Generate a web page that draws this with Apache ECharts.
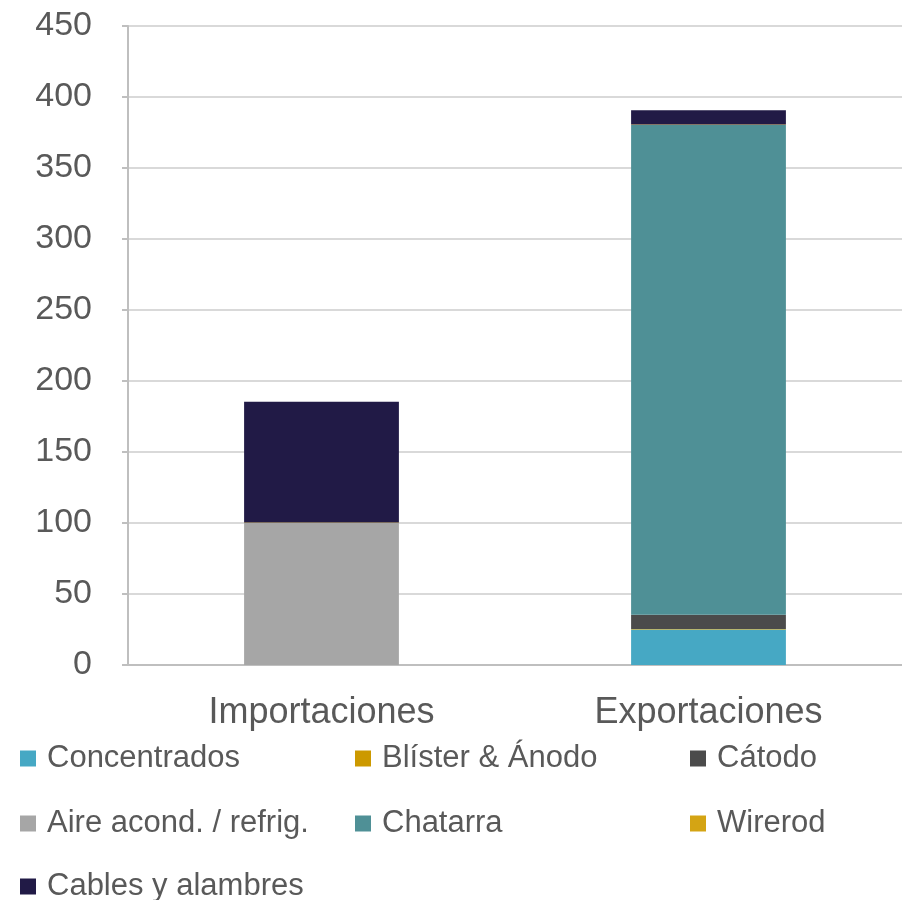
<!DOCTYPE html>
<html>
<head>
<meta charset="utf-8">
<script src="https://cdn.jsdelivr.net/npm/echarts@6/dist/echarts.min.js"></script>
<style>
    html, body { margin: 0; padding: 0; background: #fff; }
    #main { width: 902px; height: 900px; }
</style>
</head>
<body>
<div id="main"></div>
<script>
    // categorias del eje x
    const categories = ['Importaciones', 'Exportaciones'];

    // valores por producto (apilados)
    const concentrados = [0, 25];
    const blister = [0, 0.3];
    const catodo = [0, 10];
    const aireAcond = [100, 0];
    const chatarra = [0, 345];
    const wirerod = [0.3, 0.3];
    const cables = [85, 10];

    const seriesNames = ['Concentrados', 'Blíster & Ánodo', 'Cátodo', 'Aire acond. / refrig.', 'Chatarra', 'Wirerod', 'Cables y alambres'];
    const seriesData = [concentrados, blister, catodo, aireAcond, chatarra, wirerod, cables];
    const colors = ['#46A8C4', '#CC9900', '#4B4B4B', '#A6A6A6', '#4F9096', '#D4A414', '#211A46'];

    // eje y
    const yMin = 0, yMax = 450, yStep = 50;

    const font = '"Liberation Sans", Arial, sans-serif';
    const textColor = '#595959';

    // posiciones de la leyenda (3 columnas)
    const legendPos = [
        [20, 743], [355, 743], [690, 743],
        [20, 808], [355, 808], [690, 808],
        [20, 871]
    ];

    let myChart = echarts.init(document.getElementById('main'));

    let option = {
        animation: false,
        color: colors,
        grid: {
            left: 128,
            right: -2,
            top: 26,
            bottom: 235,
            containLabel: false
        },
        legend: seriesNames.map((n, i) => ({
            data: [n],
            left: legendPos[i][0],
            top: legendPos[i][1],
            icon: 'rect',
            itemWidth: 16,
            itemHeight: 16,
            itemGap: 0,
            padding: 0,
            textStyle: { fontSize: 31, color: textColor, fontFamily: font, padding: [0, 0, 0, 6] }
        })),
        xAxis: {
            type: 'category',
            data: categories,
            axisLine: { lineStyle: { color: '#BFBFBF', width: 2 } },
            axisTick: { show: false },
            axisLabel: { fontSize: 36, color: textColor, fontFamily: font, margin: 30 }
        },
        yAxis: {
            type: 'value',
            min: yMin,
            max: yMax,
            interval: yStep,
            axisLine: { show: true, lineStyle: { color: '#BFBFBF', width: 2 } },
            axisTick: { show: true, length: 6, lineStyle: { color: '#BFBFBF', width: 2 } },
            splitLine: { lineStyle: { color: '#D9D9D9', width: 2 } },
            axisLabel: { fontSize: 34, color: textColor, fontFamily: font, margin: 36 }
        },
        series: seriesNames.map((n, i) => ({
            name: n,
            type: 'bar',
            stack: 'total',
            barWidth: '40%',
            data: seriesData[i]
        }))
    };

    myChart.setOption(option);
</script>
</body>
</html>
